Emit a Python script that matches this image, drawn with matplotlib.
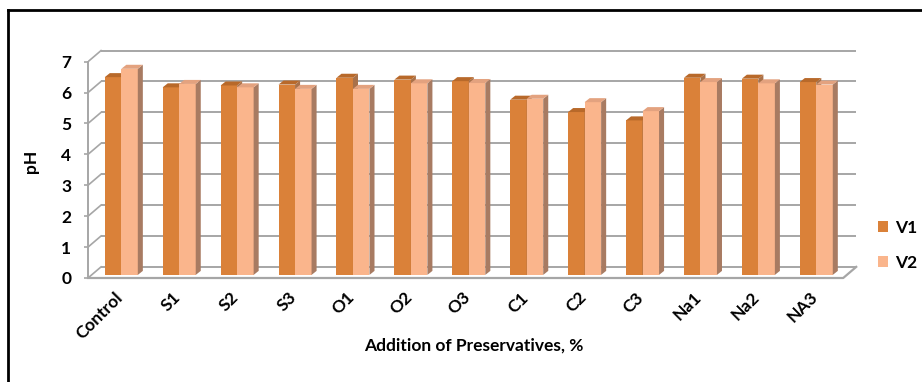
import numpy as np
import matplotlib.pyplot as plt
from matplotlib.patches import Polygon, Patch
from matplotlib.lines import Line2D

plt.rcParams['font.family'] = ['Lato', 'DejaVu Sans']
plt.rcParams['font.weight'] = 'bold'

# pH of the samples
samples = ['Control', 'S1', 'S2', 'S3', 'O1', 'O2', 'O3',
           'C1', 'C2', 'C3', 'Na1', 'Na2', 'NA3']
v1 = [6.40, 6.07, 6.13, 6.16, 6.38, 6.32, 6.27, 5.67, 5.27, 5.00, 6.38, 6.35, 6.24]
v2 = [6.67, 6.18, 6.07, 6.02, 6.02, 6.20, 6.21, 5.70, 5.59, 5.30, 6.24, 6.20, 6.16]
yticks = list(range(0, 8))

# colours (front, side, top)
c_v1 = ('#DA8139', '#A8714A', '#B8692A')
c_v2 = ('#FAB58C', '#A87B62', '#E3A27F')
grid_c = '#A6A6A6'

W, H = 922, 382
fig = plt.figure(figsize=(W / 100, H / 100), dpi=100)
ax = fig.add_axes([88 / W, 1 - 278 / H, (860 - 88) / W, (278 - 45) / H])

x_left, x_right = -0.5, 12.54
ax.set_xlim(x_left, 12.83)
ax.set_ylim(0, 7.54)

# depth of the walls and of the bars (data units)
Dx, Dy = 0.225, 0.36
dx, dy = 0.087, 0.13
base = 0.1
w = 0.285

# back wall gridlines + side-wall diagonals
for k in yticks:
    ax.plot([x_left + Dx, x_right + Dx], [k + Dy, k + Dy], color=grid_c, lw=1.4,
            zorder=1, solid_capstyle='butt')
    ax.plot([x_left, x_left + Dx], [k, k + Dy], color=grid_c, lw=1.2, zorder=1)

# floor edges
ax.plot([x_left, x_right, x_right + Dx], [0, 0, Dy], color=grid_c, lw=1.6,
        zorder=1, clip_on=False)


def draw_bars(x0s, vals, cols):
    ax.bar(x0s, vals, width=w, bottom=base, align='edge', color=cols[0],
           linewidth=0, zorder=3)
    for x0, v in zip(x0s, vals):
        top = base + v
        side = Polygon([(x0 + w, base), (x0 + w + dx, base + dy),
                        (x0 + w + dx, top + dy), (x0 + w, top)],
                       closed=True, facecolor=cols[1], lw=0, zorder=3)
        lid = Polygon([(x0, top), (x0 + dx, top + dy),
                       (x0 + w + dx, top + dy), (x0 + w, top)],
                      closed=True, facecolor=cols[2], lw=0, zorder=3)
        ax.add_patch(side)
        ax.add_patch(lid)


idx = np.arange(len(samples))
draw_bars(idx - 0.21, v1, c_v1)
draw_bars(idx - 0.21 + w, v2, c_v2)

# axes styling
for s in ['top', 'right', 'bottom']:
    ax.spines[s].set_visible(False)
ax.spines['left'].set_bounds(0, 7)
ax.spines['left'].set_color(grid_c)
ax.spines['left'].set_linewidth(1.4)
ax.set_yticks(yticks)
ax.tick_params(axis='y', length=3, color=grid_c, width=1.2, pad=9, labelsize=12.5)
ax.set_xticks(idx - 0.04, samples, rotation=45, ha='right', rotation_mode='anchor')
ax.tick_params(axis='x', length=0, pad=8, labelsize=12.5)

ax.set_ylabel('pH', fontsize=12.5, fontweight='bold', labelpad=16)
ax.set_xlabel('Addition of Preservatives, %', fontsize=12.5, fontweight='bold',
              labelpad=-3)

handles = [Patch(facecolor=c_v1[0], label='V1'), Patch(facecolor=c_v2[0], label='V2')]
fig.legend(handles=handles, loc='upper left', bbox_to_anchor=(862 / W, 1 - 204 / H),
           frameon=False, fontsize=12.5, handlelength=0.6, handleheight=0.6,
           handletextpad=0.4, labelspacing=1.1)

# outer frame (top and left)
fig.add_artist(Line2D([8 / W, 1], [1 - 10 / H, 1 - 10 / H], color='black', lw=2))
fig.add_artist(Line2D([8 / W, 8 / W], [0, 1 - 10 / H], color='black', lw=2))

fig.savefig('out.png', dpi=100)
